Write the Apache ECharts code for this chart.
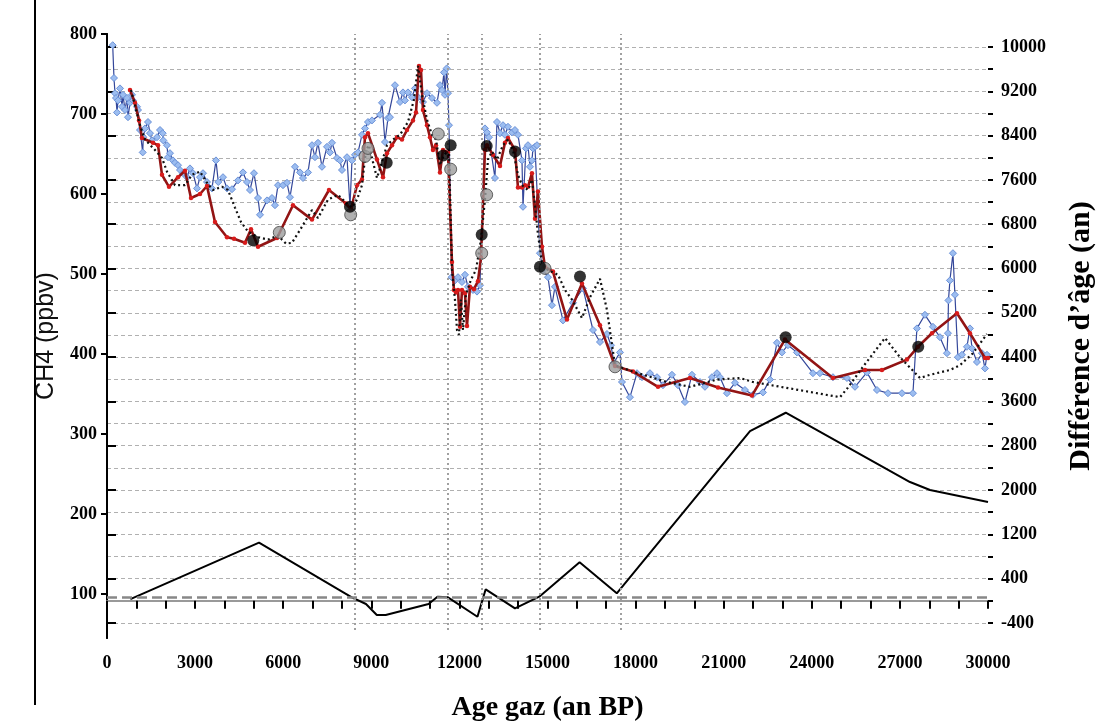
<!DOCTYPE html>
<html><head><meta charset="utf-8">
<script src="https://cdn.jsdelivr.net/npm/echarts@6/dist/echarts.min.js"></script>
<style>html,body{margin:0;padding:0;background:#fff}#c{width:1098px;height:722px}</style>
</head><body><div id="c"></div>
<script>
// ---- data (age in years BP, CH4 in ppbv, age difference in years) ----
const blueAge=[194,238,272,306,341,375,443,511,545,613,681,715,783,851,885,1022,1056,1124,1216,1236,1294,1396,1464,1532,1703,1805,1897,1917,2043,2077,2145,2247,2315,2418,2486,2588,2724,2826,2928,3065,3167,3269,3405,3575,3711,3790,3950,4086,4256,4461,4631,4767,4869,5005,5142,5210,5448,5618,5720,5823,5993,6129,6231,6401,6572,6674,6844,6980,7082,7184,7320,7491,7593,7661,7832,7934,8002,8172,8274,8342,8444,8547,8683,8785,8887,9023,9296,9364,9466,9568,9636,9806,9977,10079,10147,10249,10385,10487,10590,10760,10896,11066,11237,11339,11407,11475,11509,11567,11611,11645,11737,11849,11952,12088,12190,12292,12462,12599,12701,12871,12939,13007,13211,13280,13382,13484,13552,13654,13790,13892,13995,14131,14165,14267,14335,14403,14471,14505,14574,14642,14743,14846,15016,15152,15254,15527,15868,16208,16549,16787,17025,17161,17263,17468,17536,17808,18047,18217,18489,18728,18932,19238,19443,19681,19919,20192,20362,20600,20771,20873,21111,21384,21724,21996,22337,22575,22813,22984,23188,23494,24039,24277,24720,25197,25470,25878,26219,26593,27070,27444,27580,27853,28126,28364,28602,28636,28653,28704,28806,28874,28976,29113,29283,29386,29454,29624,29794,29897,29965];
const blueCH4=[786,745,726,720,702,717,732,709,724,705,720,696,714,724,717,709,705,680,652,671,682,690,676,667,671,680,676,667,661,646,651,642,639,636,630,626,621,632,626,607,621,626,615,607,642,615,621,607,606,617,627,615,605,626,595,574,592,595,586,611,611,614,596,634,627,620,627,661,646,664,634,659,652,664,645,642,630,646,585,642,649,652,674,682,690,692,699,714,665,695,696,736,715,727,717,727,721,732,721,715,726,720,714,736,730,752,724,757,726,686,496,492,496,490,499,484,480,478,486,682,677,671,620,690,676,686,674,684,677,680,674,642,584,657,661,634,642,657,659,661,526,505,496,461,484,442,464,482,430,415,425,411,389,402,365,346,376,371,376,371,361,374,361,340,374,365,359,371,376,371,351,364,355,349,352,368,414,402,411,402,376,376,371,370,359,377,355,351,351,351,432,449,434,421,401,426,467,492,526,474,396,399,409,432,407,390,401,382,399];

const redAge=[783,953,1090,1192,1566,1737,1873,2111,2418,2656,2860,3167,3405,3677,4086,4324,4699,4903,5142,5789,6333,6980,7559,8138,8308,8513,8683,8785,8887,9194,9398,9534,9704,9875,10045,10215,10419,10522,10624,10692,10760,10896,10998,11100,11202,11339,11441,11611,11747,11815,11883,11952,12020,12088,12190,12258,12360,12496,12632,12735,12871,12939,13143,13382,13552,13654,13893,13995,14131,14233,14335,14471,14574,14676,14812,14914,15186,15663,16174,16787,17298,17910,18762,19851,20805,21962,23086,24720,25810,26389,27240,27615,28092,28943,29386,29897,30000];
const redCH4=[730,714,692,670,664,661,624,609,621,629,595,600,610,565,546,544,539,556,534,545,586,568,605,588,581,611,618,671,676,643,621,651,661,671,668,680,692,702,760,755,705,686,671,655,661,627,655,652,515,480,477,480,434,480,476,435,484,481,491,520,655,661,649,635,664,670,655,608,608,611,609,626,569,603,534,509,503,443,488,436,385,378,359,370,358,348,418,370,380,380,393,409,426,451,426,395,395];

const dotAge=[817,1124,1294,1634,1873,2043,2315,2656,2894,3167,3405,3609,3916,4120,4358,4563,4801,5142,5482,5823,6095,6299,6572,6980,7185,7525,7866,8172,8342,8513,8683,8819,8921,9057,9194,9330,9534,9738,9977,10249,10453,10590,10726,10896,11066,11202,11339,11475,11645,11747,11849,11918,11986,12054,12122,12224,12394,12565,12735,12871,12973,13109,13280,13484,13654,13824,13995,14131,14335,14471,14574,14676,14812,15016,15357,15595,15834,16174,16447,16787,17025,17298,17910,19068,19851,20771,21554,21996,24959,25231,25742,26491,27002,27683,28024,28704,29045,29488,29965];
const dotCH4=[730,686,668,655,645,628,611,611,624,628,614,605,609,605,583,565,553,546,543,548,538,539,555,580,570,593,599,588,583,593,611,655,661,640,620,636,661,668,674,690,718,760,724,693,674,668,636,649,655,505,468,430,424,468,430,474,493,505,543,593,643,653,643,661,668,655,624,611,605,618,586,549,515,505,499,480,468,445,471,494,455,386,378,365,359,368,370,365,346,358,384,420,396,370,374,380,386,401,425];

const blackAge=[4981,8274,9524,11451,11703,12759,12929,13892,14743,16106,23110,27625];
const blackCH4=[542,584,639,648,661,549,660,653,509,497,421,409];
const greyAge=[5867,8298,8785,8887,11281,11703,12759,12929,14914,17298];
const greyCH4=[552,574,647,657,675,631,526,599,507,384];

const dAge=[797,5176,8336,8819,9187,9490,10950,11254,11611,12615,12895,13893,14720,16093,17359,21896,23112,27344,28025,30000];
const dAgeDiff=[30,1048,62,-59,-258,-258,-59,73,62,-289,206,-137,73,694,134,3065,3395,2144,2000,1783];

const markerAges=[8421,11601,12759,14720,17491];   // vertical dotted lines
const zeroLine=55;                                  // dashed reference line (right axis)
const leftTicks=[100,200,300,400,500,600,700,800];
const rightTicks=[-400,400,1200,2000,2800,3600,4400,5200,6000,6800,7600,8400,9200,10000];
const rightMinorTicks=[-400,0,400,800,1200,1600,2000,2400,2800,3200,3600,4000,4400,4800,5200,5600,6000,6400,6800,7200,7600,8000,8400,8800,9200,9600,10000];

// ---- chart ----
const pair=(a,b)=>a.map((v,i)=>[v,b[i]]);
const serif='"Liberation Serif","Times New Roman",serif';
const chart=echarts.init(document.getElementById('c'),null,{renderer:'canvas'});
const RMIN=-673, RMAX=10235;
chart.setOption({
  animation:false,
  backgroundColor:'#fff',
  grid:{left:107,right:110,top:34,bottom:84,containLabel:false,outerBoundsMode:'none'},
  graphic:[{type:'line',shape:{x1:35,y1:0,x2:35,y2:705},style:{stroke:'#000',lineWidth:2}}],
  xAxis:[{
    type:'value',min:0,max:30000,interval:1000,
    axisLine:{lineStyle:{color:'#000',width:2}},
    axisTick:{inside:false,length:8,lineStyle:{color:'#000',width:2}},
    axisLabel:{formatter:v=>v%3000===0?String(v):'',fontFamily:serif,fontWeight:'bold',fontSize:18,color:'#000',margin:16},
    splitLine:{show:false},
    name:'Age gaz (an BP)',nameLocation:'middle',nameGap:56,
    nameTextStyle:{fontFamily:serif,fontWeight:'bold',fontSize:28,color:'#000'}
  },{
    type:'value',position:'top',min:0,max:30000,
    axisLine:{lineStyle:{color:'#999',width:2}},axisTick:{show:false},axisLabel:{show:false},splitLine:{show:false}
  }],
  yAxis:[{
    type:'value',min:45,max:800,position:'left',
    axisLine:{show:true,lineStyle:{color:'#000',width:2}},
    axisTick:{show:true,inside:false,length:6,customValues:leftTicks,lineStyle:{color:'#000',width:2}},
    axisLabel:{customValues:leftTicks,formatter:v=>String(v),fontFamily:serif,fontWeight:'bold',fontSize:18,color:'#000',margin:10},
    splitLine:{show:false},
    name:'CH4 (ppbv)',nameLocation:'middle',nameGap:47,nameRotate:90,
    nameTextStyle:{fontFamily:'"Liberation Sans",Arial,sans-serif',fontSize:25,color:'#111'}
  },{
    type:'value',min:RMIN,max:RMAX,position:'right',
    axisLine:{show:true,lineStyle:{color:'#000',width:2}},
    axisTick:{show:true,inside:false,length:9,customValues:rightTicks,lineStyle:{color:'#000',width:2}},
    axisLabel:{customValues:rightTicks,formatter:v=>String(v),fontFamily:serif,fontWeight:'bold',fontSize:18,color:'#000',margin:13},
    splitLine:{show:false},
    name:'Différence d’âge (an)',nameLocation:'middle',nameGap:78,nameRotate:90,
    nameTextStyle:{fontFamily:serif,fontWeight:'bold',fontSize:30,color:'#000'}
  },{
    type:'value',min:RMIN,max:RMAX,position:'right',
    axisLine:{show:false},
    axisTick:{show:true,inside:false,length:5,customValues:rightMinorTicks,lineStyle:{color:'#000',width:2}},
    axisLabel:{show:false},
    splitLine:{show:true,lineStyle:{color:'#b0b0b0',width:1,type:[4,3]}}
  }],
  series:[
    {type:'line',name:'markers',yAxisIndex:0,data:[],silent:true,
     markLine:{silent:true,symbol:'none',label:{show:false},
       lineStyle:{color:'#a0a0a0',width:2,type:[2,3]},
       data:markerAges.map(a=>[{coord:[a,55]},{coord:[a,800]}])}},
    {type:'line',name:'blue',yAxisIndex:0,data:pair(blueAge,blueCH4),z:3,
     symbol:'diamond',symbolSize:7,showAllSymbol:true,
     itemStyle:{color:'#9cbdf0',borderColor:'#6c92d8',borderWidth:1},
     lineStyle:{color:'#34479a',width:1.2}},
    {type:'line',name:'red',yAxisIndex:0,data:pair(redAge,redCH4),z:4,
     symbol:'circle',symbolSize:4.5,showAllSymbol:true,
     itemStyle:{color:'#d81b1b'},lineStyle:{color:'#921414',width:2.6}},
    {type:'line',name:'dotted',yAxisIndex:0,data:pair(dotAge,dotCH4),z:5,
     symbol:'none',lineStyle:{color:'#111',width:2.2,type:[2,3]}},
    {type:'scatter',name:'grey',yAxisIndex:0,data:pair(greyAge,greyCH4),z:6,
     symbolSize:12,itemStyle:{color:'#9c9c9c',borderColor:'#444',borderWidth:1}},
    {type:'scatter',name:'black',yAxisIndex:0,data:pair(blackAge,blackCH4),z:7,
     symbolSize:12,itemStyle:{color:'#000'}},
    {type:'line',name:'dage',yAxisIndex:1,data:pair(dAge,dAgeDiff),z:4,
     symbol:'none',lineStyle:{color:'#000',width:2},
     markLine:{silent:true,symbol:'none',label:{show:false},
       lineStyle:{color:'#888',width:2.5,type:[10,5]},data:[{yAxis:zeroLine}]}}
  ]
});
</script></body></html>
